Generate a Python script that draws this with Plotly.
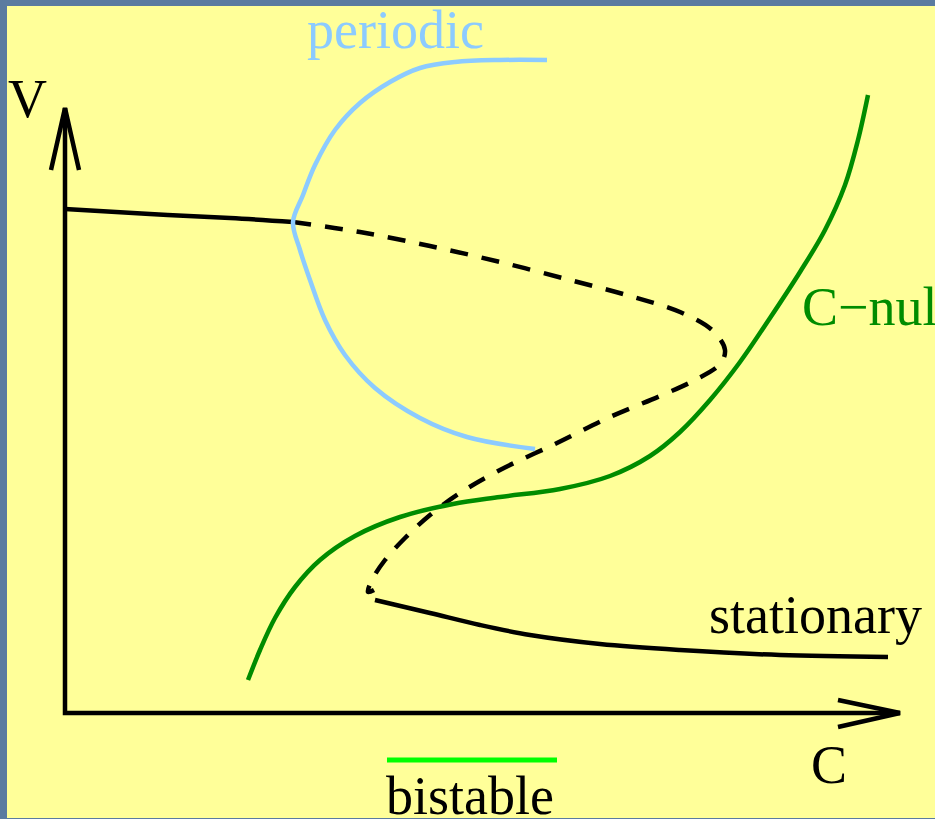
import plotly.graph_objects as go

# Schematic curves (pixel-space coordinates of the drawing, y downward)
upper_stable_c = [65, 150, 230, 293]
upper_stable_v = [209, 214, 218, 222]

unstable_c = [293, 360, 430, 500, 570, 630, 680, 712, 725, 720, 695, 660, 610, 557, 500, 460, 430, 405, 385, 372, 368, 374]
unstable_v = [222, 232, 246, 262, 280, 296, 312, 330, 350, 364, 380, 396, 417, 443, 470, 493, 515, 538, 560, 580, 592, 590]

lower_stable_c = [375, 430, 480, 530, 600, 680, 780, 888]
lower_stable_v = [600, 613, 625, 635, 644, 650, 655, 657]

periodic_c = [547, 500, 455, 420, 390, 360, 335, 315, 303, 293, 300, 310, 325, 345, 375, 420, 467, 535]
periodic_v = [60, 60, 62, 68, 82, 103, 130, 165, 195, 222, 250, 280, 320, 355, 388, 418, 437, 449]

cnull_c = [868, 858, 845, 825, 800, 770, 740, 710, 680, 650, 610, 560, 500, 453, 400, 355, 320, 295, 275, 260, 248]
cnull_v = [95, 140, 185, 230, 272, 318, 362, 400, 432, 456, 476, 489, 497, 504, 517, 536, 560, 587, 618, 650, 680]

axis_c = [65, 65, 900]
axis_v = [108, 713, 713]
v_arrow_c = [51, 65, 79]
v_arrow_v = [170, 108, 170]
c_arrow_c = [838, 900, 838]
c_arrow_v = [700, 713, 727]

bistable_c = [387, 557]
bistable_v = [760, 760]

labels = ["V", "C", "periodic", "C\u2212nul", "stationary", "bistable"]
label_c = [27, 829, 395, 800, 815, 470]
label_v = [99, 765, 30, 307, 615, 796]

BLACK = "#000000"
BLUE = "#8ccbff"
GREEN = "#008c00"
LIME = "#00ff00"
YELLOW = "#ffff99"
BORDER = "#5a7ba0"
FONT = "Liberation Serif, Times New Roman, serif"

fig = go.Figure()

def line(x, y, color, width=4.5, dash="solid", shape="linear"):
    fig.add_trace(go.Scatter(x=x, y=y, mode="lines",
                             line=dict(color=color, width=width, dash=dash, shape=shape),
                             hoverinfo="skip", showlegend=False))

line(axis_c, axis_v, BLACK)
line(v_arrow_c, v_arrow_v, BLACK)
line(c_arrow_c, c_arrow_v, BLACK)
line(upper_stable_c, upper_stable_v, BLACK, shape="spline")
line(unstable_c, unstable_v, BLACK, dash="18px,14px", shape="spline")
line(lower_stable_c, lower_stable_v, BLACK, shape="spline")
line(cnull_c, cnull_v, GREEN, shape="spline")
line(periodic_c, periodic_v, BLUE, shape="spline")
line(bistable_c, bistable_v, LIME, 5)

colors = [BLACK, BLACK, BLUE, GREEN, BLACK, BLACK]
anchors = ["center", "center", "center", "left", "center", "center"]
for t, cx, cy, col, xa in zip(labels, label_c, label_v, colors, anchors):
    fig.add_annotation(x=cx, y=cy, text=t, showarrow=False, xanchor=xa, yanchor="middle",
                       font=dict(family=FONT, size=54, color=col))

fig.add_shape(type="rect", xref="paper", yref="paper", x0=0, x1=1, y0=0, y1=1,
              fillcolor=BORDER, line_width=0, layer="below")
fig.add_shape(type="rect", x0=7, x1=940, y0=6, y1=818,
              fillcolor=YELLOW, line_width=0, layer="below")

fig.update_layout(
    width=935, height=819,
    margin=dict(l=0, r=0, t=0, b=0),
    paper_bgcolor=BORDER, plot_bgcolor="rgba(0,0,0,0)",
    xaxis=dict(range=[0, 935], visible=False, fixedrange=True),
    yaxis=dict(range=[819, 0], visible=False, fixedrange=True),
)

fig.write_html("out.html", config={"displayModeBar": False, "staticPlot": True})

with open("out.html", "r", encoding="utf-8") as f:
    html = f.read()
html = html.replace("<head>", "<head><style>html,body{margin:0;padding:0;overflow:hidden;}</style>", 1)
with open("out.html", "w", encoding="utf-8") as f:
    f.write(html)
